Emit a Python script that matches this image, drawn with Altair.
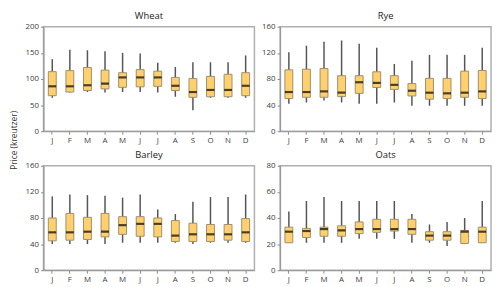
import altair as alt
import pandas as pd

MONTHS = ["Jan", "Feb", "Mar", "Apr", "May", "Jun", "Jul", "Aug", "Sep", "Oct", "Nov", "Dec"]

WHEAT = {
    "high": [138, 156, 155, 153, 150, 149, 131, 123, 132, 132, 132, 145],
    "q3":   [114, 116, 122, 117, 112, 118, 115, 103, 101, 105, 109, 112],
    "med":  [86, 86, 88, 91, 103, 103, 103, 87, 75, 79, 79, 87],
    "q1":   [68, 75, 78, 81, 84, 85, 86, 78, 65, 66, 66, 68],
    "low":  [64, 74, 75, 74, 75, 75, 74, 66, 40, 64, 64, 64],
}
RYE = {
    "high": [121, 131, 137, 139, 134, 128, 103, 108, 117, 117, 117, 128],
    "q3":   [94, 95, 96, 85, 85, 91, 85, 73, 81, 81, 92, 93],
    "med":  [60, 60, 61, 59, 75, 74, 71, 62, 59, 58, 59, 61],
    "q1":   [50, 52, 52, 53, 58, 67, 64, 54, 49, 50, 52, 50],
    "low":  [42, 44, 47, 44, 42, 42, 44, 39, 39, 39, 39, 39],
}
BARLEY = {
    "high": [113, 116, 115, 114, 111, 116, 93, 86, 105, 112, 112, 116],
    "q3":   [80, 87, 81, 87, 82, 82, 80, 76, 72, 70, 70, 79],
    "med":  [58, 58, 59, 59, 69, 71, 71, 53, 55, 55, 55, 58],
    "q1":   [45, 46, 47, 51, 55, 52, 51, 44, 44, 44, 46, 44],
    "low":  [40, 40, 40, 40, 42, 42, 42, 42, 40, 42, 42, 42],
}
OATS = {
    "high": [45, 53, 56, 53, 53, 53, 53, 43, 35, 37, 40, 53],
    "q3":   [33, 32, 33, 34, 37, 39, 39, 39, 29.5, 29.5, 30.5, 33],
    "med":  [29.5, 30, 31.5, 30.5, 31.5, 31.5, 31.5, 31.5, 26.5, 26.5, 29.5, 29.5],
    "q1":   [21, 25, 26, 26, 28, 29, 30, 27.5, 23, 23, 20.5, 21],
    "low":  [21, 21, 21, 21, 24, 24, 24, 21, 21, 18.5, 20, 21],
}

FONT = "Open Sans"
BOX_FILL = "#FFD06B"
BOX_STROKE = "#9c8f72"
W, H = 214, 106


def panel(name, stats, ymax, step):
    df = pd.DataFrame({"month": MONTHS, **stats})
    yscale = alt.Scale(domain=[0, ymax], nice=False)
    yaxis = alt.Axis(
        title=None,
        values=list(range(0, ymax + 1, step)),
        tickCount=ymax // step + 1,
        tickSize=3,
        labelPadding=2,
        labelOverlap=False,
    )
    base = alt.Chart(df).encode(
        x=alt.X(
            "month:N",
            sort=MONTHS,
            scale=alt.Scale(paddingInner=0, paddingOuter=0),
            axis=alt.Axis(
                title=None,
                labelAngle=0,
                labelExpr="substring(datum.label, 0, 1)",
                tickSize=3,
                labelPadding=2,
                labelOverlap=False,
            ),
        )
    )
    whisker = base.mark_rule(color="#555555", strokeWidth=1.5).encode(
        y=alt.Y("low:Q", scale=yscale, axis=yaxis),
        y2="high:Q",
    )
    box = base.mark_bar(size=8, fill=BOX_FILL, stroke=BOX_STROKE, strokeWidth=1).encode(
        y=alt.Y("q1:Q", scale=yscale, axis=yaxis), y2="q3:Q"
    )
    med = base.mark_tick(color="black", size=8, thickness=2.2).encode(
        y=alt.Y("med:Q", scale=yscale, axis=yaxis)
    )
    return alt.layer(whisker, box, med).properties(
        width=W,
        height=H,
        title=alt.Title(name, fontSize=9.5, fontWeight="normal", font=FONT, color="#222222", offset=2),
    )


chart = (
    alt.concat(
        panel("Wheat", WHEAT, 200, 50),
        panel("Rye", RYE, 160, 40),
        panel("Barley", BARLEY, 160, 40),
        panel("Oats", OATS, 80, 20),
        columns=2,
        spacing={"row": 35, "column": 26},
        bounds="flush",
    )
    .properties(
        padding={"left": 2, "top": 0, "right": 0, "bottom": 0},
        title=alt.Title(
            "Price (kreutzer)",
            orient="left",
            anchor="middle",
            fontSize=8.5,
            fontWeight="normal",
            font=FONT,
            color="#333333",
            offset=6,
            dx=7,
        ),
    )
    .configure_view(stroke="#b0b0b0", strokeWidth=1.5)
    .configure_axis(
        grid=False,
        labelFont=FONT,
        labelFontSize=8,
        labelColor="#404040",
        labelOverlap=False,
        tickColor="#888888",
        domainColor="#999999",
        domainWidth=1.2,
    )
)

chart.save("out.html", embed_options={"renderer": "svg", "actions": False})
